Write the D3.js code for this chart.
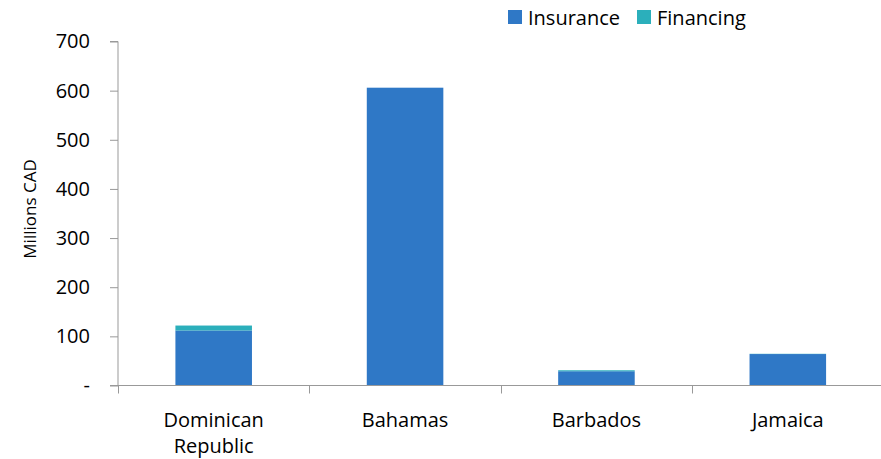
<!DOCTYPE html>
<html><head><meta charset="utf-8">
<script src="https://cdn.jsdelivr.net/npm/d3@7"></script>
<style>body{margin:0;background:#fff}svg{display:block}text{font-family:"Open Sans",sans-serif;fill:#000}</style>
</head><body><svg id="c" width="881" height="459"></svg>
<script>
const categories = ["Dominican Republic", "Bahamas", "Barbados", "Jamaica"];
const insurance = [112, 606, 29, 64];
const financing = [10, 0, 2, 0.5];
const yTicks = [0, 100, 200, 300, 400, 500, 600, 700];
const seriesNames = ["Insurance", "Financing"];
const colors = ["#2F78C6", "#2BAFBB"];

const svg = d3.select("#c");
const x = d3.scaleBand().domain(categories).range([118, 883.5]).paddingInner(0.6).paddingOuter(0.3);
const y = d3.scaleLinear().domain([0, 700]).range([385.5, 41.5]);

const data = categories.map((c, i) => ({cat: c, Insurance: insurance[i], Financing: financing[i]}));
const stack = d3.stack().keys(seriesNames)(data);

svg.append("g").selectAll("g").data(stack).join("g")
  .attr("fill", (d, i) => colors[i])
  .selectAll("rect").data(d => d).join("rect")
  .attr("x", d => x(d.data.cat))
  .attr("width", x.bandwidth())
  .attr("y", d => y(d[1]))
  .attr("height", d => y(d[0]) - y(d[1]));

// y axis
const yAxis = svg.append("g").attr("transform", "translate(118,0)")
  .call(d3.axisLeft(y).tickValues(yTicks).tickSize(8).tickPadding(20)
    .tickFormat(d => d === 0 ? "-" : d));
yAxis.select(".domain").attr("stroke", "#999").attr("d", "M-8,41.5H0V385.5");
yAxis.selectAll(".tick line").attr("stroke", "#999");
yAxis.selectAll(".tick text").attr("font-size", 20).attr("font-family", "Open Sans").attr("fill", "#000");

// x axis
const xa = svg.append("g").attr("transform", "translate(0,385.5)");
xa.append("line").attr("x1", 110).attr("x2", 881).attr("stroke", "#999");
const bounds = d3.range(4).map(i => 118 + i * (883.5 - 118) / 4);
xa.selectAll(".xt").data(bounds).join("line")
  .attr("x1", d => Math.round(d) + 0.5).attr("x2", d => Math.round(d) + 0.5)
  .attr("y1", 0).attr("y2", 8).attr("stroke", "#999");
const lbl = svg.append("g");
categories.forEach(c => {
  const words = c.split(" ");
  const cx = x(c) + x.bandwidth() / 2;
  const t = lbl.append("text").attr("text-anchor", "middle").attr("font-size", 20)
    .attr("x", cx).attr("y", 427);
  words.forEach((w, i) => t.append("tspan").attr("x", cx).attr("dy", i === 0 ? 0 : 26).text(w));
});

// y label
svg.append("text").attr("transform", "translate(36,209) rotate(-90)")
  .attr("text-anchor", "middle").attr("font-size", 17).text("Millions CAD");

// legend
const lg = svg.append("g");
const lx = [508, 637];
seriesNames.forEach((s, i) => {
  lg.append("rect").attr("x", lx[i]).attr("y", 10).attr("width", 14).attr("height", 14).attr("fill", colors[i]);
  lg.append("text").attr("x", lx[i] + 20).attr("y", 24.5).attr("font-size", 20).text(s);
});
</script></body></html>
